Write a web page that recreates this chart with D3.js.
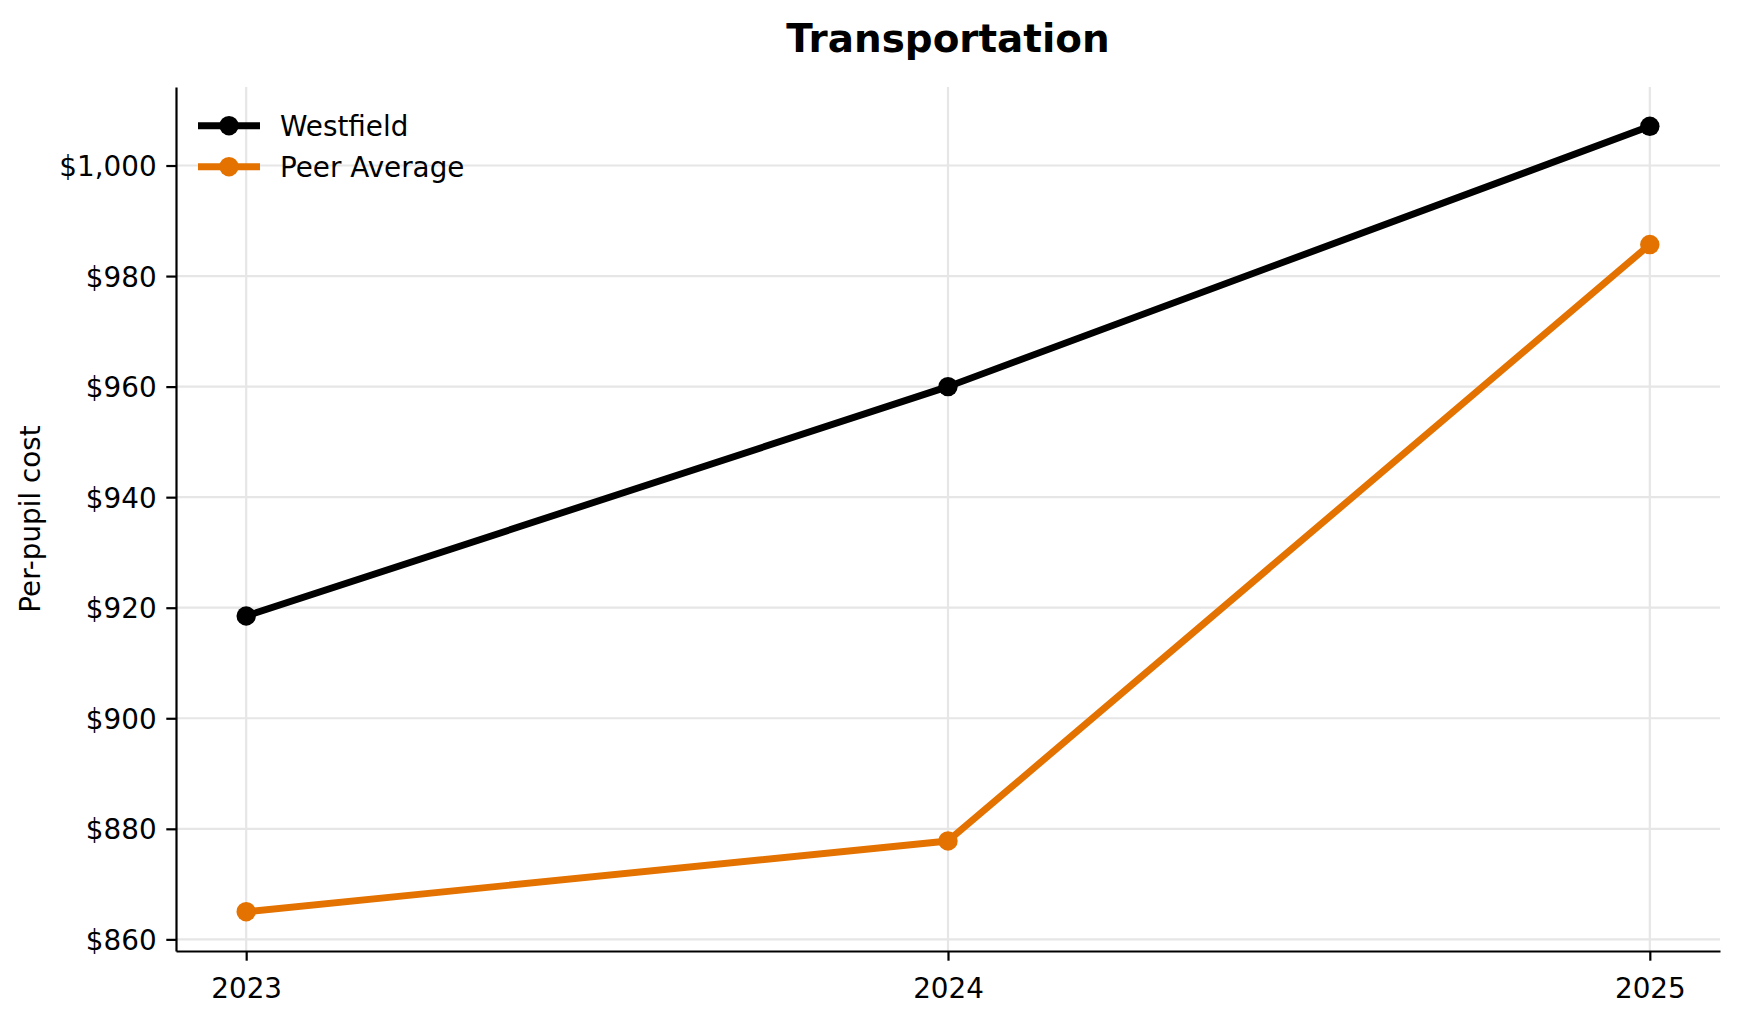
<!DOCTYPE html>
<html>
<head>
<meta charset="utf-8">
<script src="https://cdn.jsdelivr.net/npm/d3@7"></script>
<style>
  body { margin: 0; background: #fff; }
  text { font-family: "DejaVu Sans", sans-serif; fill: #000; }
</style>
</head>
<body>
<div id="chart"></div>
<script>
// data
var years = [2023, 2024, 2025];
var westfield = [918.5, 960, 1007.1];
var peerAverage = [865, 877.8, 985.7];
var yTicks = [860, 880, 900, 920, 940, 960, 980, 1000];
var seriesNames = ["Westfield", "Peer Average"];
var seriesColors = ["#000000", "#e37200"];

var width = 1739, height = 1019;
var plotLeft = 176, plotRight = 1720, plotTop = 87, plotBottom = 951;
var fontSize = 27.8;

var svg = d3.select("#chart").append("svg")
    .attr("width", width)
    .attr("height", height);

// 5% margins like matplotlib
var xPad = (d3.max(years) - d3.min(years)) * 0.05;
var x = d3.scaleLinear()
    .domain([d3.min(years) - xPad, d3.max(years) + xPad])
    .range([plotLeft, plotRight]);

var allVals = westfield.concat(peerAverage);
var yPad = (d3.max(allVals) - d3.min(allVals)) * 0.05;
var y = d3.scaleLinear()
    .domain([d3.min(allVals) - yPad, d3.max(allVals) + yPad])
    .range([plotBottom, plotTop]);

// grid
var grid = svg.append("g").attr("class", "grid");
grid.selectAll(".hgrid")
    .data(yTicks)
    .enter().append("line")
    .attr("x1", plotLeft).attr("x2", plotRight)
    .attr("y1", function(d) { return y(d); })
    .attr("y2", function(d) { return y(d); })
    .attr("stroke", "#e6e6e6")
    .attr("stroke-width", 2.2);
grid.selectAll(".vgrid")
    .data(years)
    .enter().append("line")
    .attr("y1", plotTop).attr("y2", plotBottom)
    .attr("x1", function(d) { return x(d); })
    .attr("x2", function(d) { return x(d); })
    .attr("stroke", "#e6e6e6")
    .attr("stroke-width", 2.2);

// axes
var yAxis = svg.append("g")
    .attr("transform", "translate(" + plotLeft + ",0)")
    .call(d3.axisLeft(y)
        .tickValues(yTicks)
        .tickFormat(function(d) { return "$" + d3.format(",")(d); })
        .tickSize(9.7)
        .tickSizeOuter(0)
        .tickPadding(9.7));

var xAxis = svg.append("g")
    .attr("transform", "translate(0," + plotBottom + ")")
    .call(d3.axisBottom(x)
        .tickValues(years)
        .tickFormat(d3.format("d"))
        .tickSize(9.7)
        .tickSizeOuter(0)
        .tickPadding(9.7));

[xAxis, yAxis].forEach(function(ax) {
    ax.selectAll("path.domain").attr("stroke", "#000").attr("stroke-width", 2.2);
    ax.selectAll(".tick line").attr("stroke", "#000").attr("stroke-width", 2.2);
    ax.selectAll(".tick text")
        .style("font-family", "DejaVu Sans")
        .style("font-size", fontSize + "px")
        .attr("fill", "#000");
});
yAxis.selectAll(".tick text").attr("dy", "0.36em");
xAxis.selectAll(".tick text").attr("dy", "0.98em");

// lines
var series = [westfield, peerAverage];
var line = d3.line()
    .x(function(d, i) { return x(years[i]); })
    .y(function(d) { return y(d); });

series.forEach(function(vals, s) {
    svg.append("path")
        .datum(vals)
        .attr("d", line)
        .attr("fill", "none")
        .attr("stroke", seriesColors[s])
        .attr("stroke-width", 6.9)
        .attr("stroke-linejoin", "round")
        .attr("stroke-linecap", "square");

    svg.selectAll(".pt" + s)
        .data(vals)
        .enter().append("circle")
        .attr("class", "pt" + s)
        .attr("cx", function(d, i) { return x(years[i]); })
        .attr("cy", function(d) { return y(d); })
        .attr("r", 9.7)
        .attr("fill", seriesColors[s]);
});

// legend
var legend = svg.selectAll(".legend")
    .data(seriesNames)
    .enter().append("g")
    .attr("class", "legend")
    .attr("transform", function(d, i) {
        return "translate(198," + (125.7 + 41 * i) + ")";
    });

legend.append("line")
    .attr("x1", 0).attr("x2", 62)
    .attr("y1", 0).attr("y2", 0)
    .attr("stroke", function(d, i) { return seriesColors[i]; })
    .attr("stroke-width", 6.9);

legend.append("circle")
    .attr("cx", 31).attr("cy", 0)
    .attr("r", 9.7)
    .attr("fill", function(d, i) { return seriesColors[i]; });

legend.append("text")
    .attr("x", 82)
    .attr("y", 0)
    .attr("dy", "0.36em")
    .style("font-size", fontSize + "px")
    .text(function(d) { return d; });

// title
svg.append("text")
    .attr("x", (plotLeft + plotRight) / 2)
    .attr("y", 51.7)
    .attr("text-anchor", "middle")
    .style("font-size", "38.9px")
    .style("font-weight", "bold")
    .text("Transportation");

// y label
svg.append("text")
    .attr("transform", "translate(40," + ((plotTop + plotBottom) / 2) + ") rotate(-90)")
    .attr("text-anchor", "middle")
    .style("font-size", fontSize + "px")
    .text("Per-pupil cost");
</script>
</body>
</html>
